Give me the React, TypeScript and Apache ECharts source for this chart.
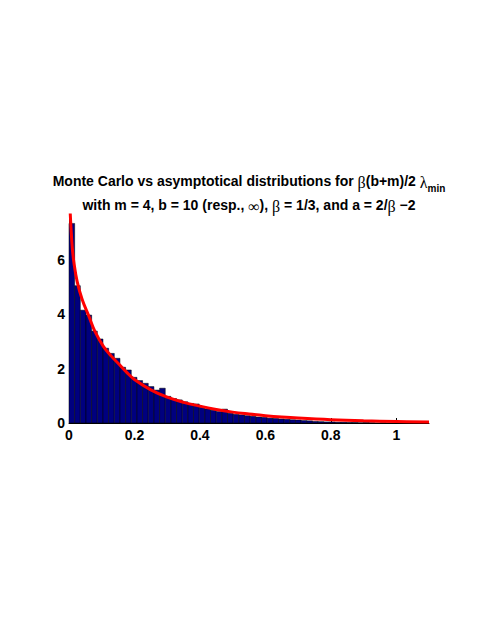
import React, { useEffect, useRef } from "react";
import * as echarts from "echarts";

// Histogram (Monte Carlo) — bin width and heights
const binWidth = 0.0173;
const binHeights = [
  7.34, 5.05, 4.15, 3.97, 3.38, 3.09, 2.75, 2.56, 2.38, 2.05,
  1.95, 1.68, 1.56, 1.46, 1.34, 1.21, 1.28, 0.98, 0.9, 0.85,
  0.78, 0.72, 0.7, 0.58, 0.52, 0.47, 0.42, 0.51, 0.36, 0.32,
  0.3, 0.27, 0.25, 0.22, 0.21, 0.18, 0.17, 0.15, 0.14, 0.12,
  0.11, 0.09, 0.08, 0.06, 0.05, 0.04, 0.04, 0.03, 0.03, 0.02,
  0.02, 0.01, 0.02, 0.01, 0.0, 0.01, 0.0, 0.0,
];

// Asymptotic density curve
const curveX = [
  0.003, 0.006, 0.01, 0.015, 0.025, 0.04, 0.06, 0.08, 0.105, 0.13,
  0.15, 0.175, 0.2, 0.25, 0.3, 0.35, 0.4, 0.45, 0.5, 0.55,
  0.6, 0.65, 0.7, 0.8, 0.9, 1.0, 1.1,
];
const curveY = [
  7.9, 7.2, 6.45, 5.9, 5.2, 4.55, 3.95, 3.35, 2.82, 2.45,
  2.2, 1.88, 1.6, 1.22, 0.95, 0.76, 0.62, 0.5, 0.4, 0.33,
  0.27, 0.22, 0.18, 0.12, 0.08, 0.055, 0.035,
];

const xTicks = [0, 0.2, 0.4, 0.6, 0.8, 1];
const yTicks = [0, 2, 4, 6];

const titleLine1 =
  "{a|Monte Carlo vs asymptotical distributions for }{g|β}{a|(b+m)/2 }{g|λ}{s|min}";
const titleLine2 =
  "{a|with m = 4, b = 10 (resp., }{g|∞}{a|), }{g|β}{a| = 1/3, and a = 2/}{g|β}{a| −2}";

const SANS = "'Liberation Sans', Arial, Helvetica, sans-serif";
const SERIF = "'Liberation Serif', 'DejaVu Serif', serif";

export default function App() {
  const ref = useRef<HTMLDivElement>(null);

  useEffect(() => {
    if (!ref.current) return;
    const chart = echarts.init(ref.current, undefined, { renderer: "svg" });

    const barData = binHeights.map((h, i) => [i * binWidth, (i + 1) * binWidth, h]);
    const lineData = curveX.map((x, i) => [x, curveY[i]]);

    const rich = {
      a: { fontFamily: SANS, fontWeight: "bold", fontSize: 14, lineHeight: 18, verticalAlign: "top", fill: "#000", color: "#000" },
      g: { fontFamily: SERIF, fontWeight: "normal", fontSize: 16, lineHeight: 18, verticalAlign: "top", fill: "#000", color: "#000" },
      s: { fontFamily: SANS, fontWeight: "bold", fontSize: 10, lineHeight: 12, padding: [9, 0, 0, 0], verticalAlign: "top", fill: "#000", color: "#000" },
    };

    chart.setOption({
      animation: false,
      backgroundColor: "#fff",
      graphic: [
        {
          type: "text",
          x: 249,
          y: 174,
          style: { text: titleLine1, align: "center", verticalAlign: "top", rich },
        },
        {
          type: "text",
          x: 249,
          y: 198,
          style: { text: titleLine2, align: "center", verticalAlign: "top", rich },
        },
      ],
      grid: { left: 69, right: 52, top: 215, bottom: 200 },
      xAxis: {
        type: "value",
        min: 0,
        max: 1.1,
        axisLine: { show: true, lineStyle: { color: "#000", width: 1 } },
        axisTick: { show: true, inside: true, length: 5, customValues: xTicks, lineStyle: { color: "#000" } },
        axisLabel: {
          customValues: xTicks,
          color: "#000",
          fontFamily: SANS,
          fontWeight: "bold",
          fontSize: 14,
          margin: 5,
        },
        splitLine: { show: false },
      },
      yAxis: {
        type: "value",
        min: 0,
        max: 7.65,
        axisLine: { show: true, lineStyle: { color: "#000", width: 1 } },
        axisTick: { show: true, inside: true, length: 5, customValues: yTicks, lineStyle: { color: "#000" } },
        axisLabel: {
          customValues: yTicks,
          color: "#000",
          fontFamily: SANS,
          fontWeight: "bold",
          fontSize: 14,
          margin: 4,
        },
        splitLine: { show: false },
      },
      series: [
        {
          type: "custom",
          data: barData,
          encode: { x: [0, 1], y: 2 },
          renderItem: (params: any, api: any) => {
            const x0 = api.value(0);
            const x1 = api.value(1);
            const h = api.value(2);
            const pTop = api.coord([x0, h]);
            const pBot = api.coord([x1, 0]);
            return {
              type: "rect",
              shape: { x: pTop[0], y: pTop[1], width: pBot[0] - pTop[0], height: pBot[1] - pTop[1] },
              style: { fill: "#00007F", stroke: "#000", lineWidth: 0.5 },
            };
          },
          z: 2,
        },
        {
          type: "line",
          data: lineData,
          smooth: 0.4,
          showSymbol: false,
          symbol: "none",
          clip: true,
          lineStyle: { color: "#FF0000", width: 3 },
          z: 3,
        },
      ],
    });

    return () => chart.dispose();
  }, []);

  return (
    <div
      ref={ref}
      style={{ position: "fixed", left: 0, top: 0, width: 481, height: 623, background: "#fff" }}
    />
  );
}
